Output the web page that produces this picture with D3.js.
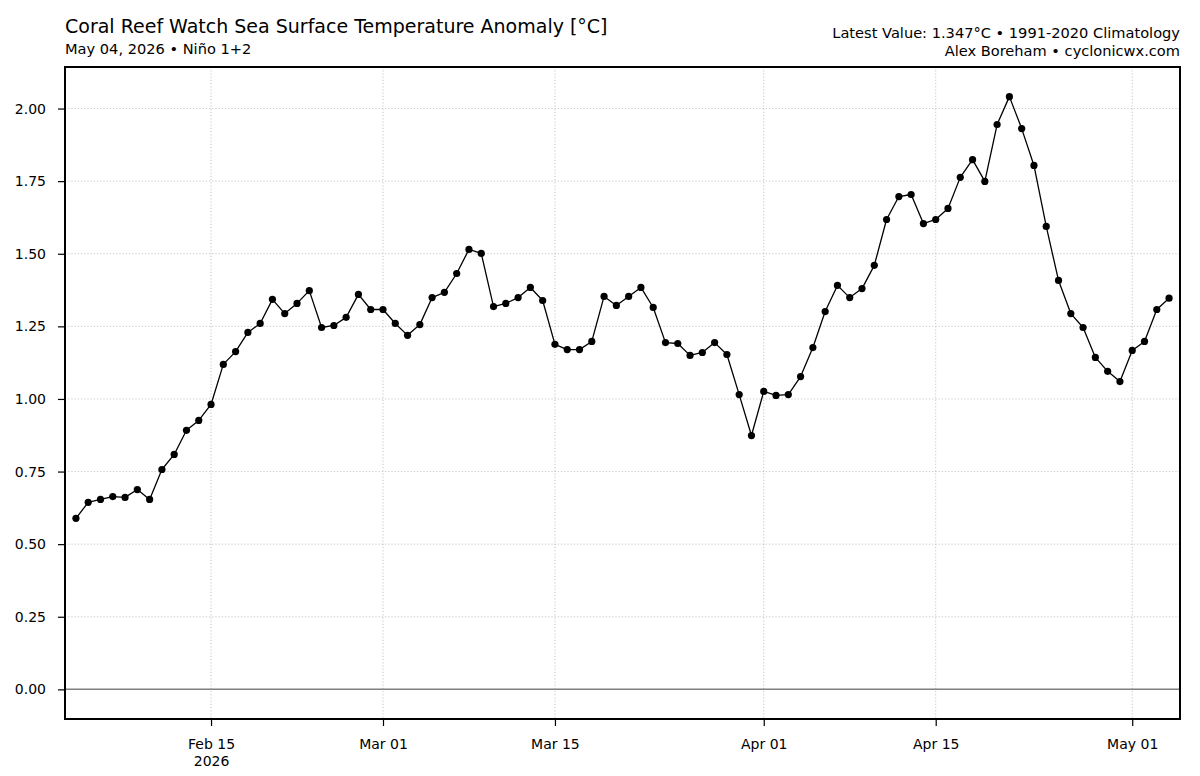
<!DOCTYPE html>
<html>
<head>
<meta charset="utf-8">
<script src="https://cdn.jsdelivr.net/npm/d3@7"></script>
<style>
  html, body { margin: 0; padding: 0; background: #fff; }
  svg { display: block; font-family: "DejaVu Sans", sans-serif; }
</style>
</head>
<body>
<svg id="chart" width="1200" height="776"></svg>
<script>
const dates = [
  "2026-02-04","2026-02-05","2026-02-06","2026-02-07","2026-02-08","2026-02-09","2026-02-10",
  "2026-02-11","2026-02-12","2026-02-13","2026-02-14","2026-02-15","2026-02-16","2026-02-17",
  "2026-02-18","2026-02-19","2026-02-20","2026-02-21","2026-02-22","2026-02-23","2026-02-24",
  "2026-02-25","2026-02-26","2026-02-27","2026-02-28","2026-03-01","2026-03-02","2026-03-03",
  "2026-03-04","2026-03-05","2026-03-06","2026-03-07","2026-03-08","2026-03-09","2026-03-10",
  "2026-03-11","2026-03-12","2026-03-13","2026-03-14","2026-03-15","2026-03-16","2026-03-17",
  "2026-03-18","2026-03-19","2026-03-20","2026-03-21","2026-03-22","2026-03-23","2026-03-24",
  "2026-03-25","2026-03-26","2026-03-27","2026-03-28","2026-03-29","2026-03-30","2026-03-31",
  "2026-04-01","2026-04-02","2026-04-03","2026-04-04","2026-04-05","2026-04-06","2026-04-07",
  "2026-04-08","2026-04-09","2026-04-10","2026-04-11","2026-04-12","2026-04-13","2026-04-14",
  "2026-04-15","2026-04-16","2026-04-17","2026-04-18","2026-04-19","2026-04-20","2026-04-21",
  "2026-04-22","2026-04-23","2026-04-24","2026-04-25","2026-04-26","2026-04-27","2026-04-28",
  "2026-04-29","2026-04-30","2026-05-01","2026-05-02","2026-05-03","2026-05-04"
];
const anomalies = [
  0.589,0.644,0.654,0.664,0.661,0.688,0.654,
  0.757,0.809,0.892,0.926,0.981,1.119,1.163,
  1.229,1.260,1.343,1.294,1.329,1.373,1.246,
  1.253,1.281,1.360,1.308,1.308,1.260,1.219,
  1.256,1.349,1.367,1.432,1.515,1.501,1.318,
  1.329,1.349,1.384,1.339,1.188,1.170,1.170,
  1.198,1.353,1.322,1.353,1.384,1.315,1.194,
  1.191,1.150,1.160,1.194,1.153,1.015,0.874,
  1.026,1.012,1.015,1.077,1.177,1.301,1.391,
  1.349,1.380,1.460,1.618,1.697,1.704,1.604,
  1.618,1.656,1.763,1.824,1.749,1.945,2.041,
  1.931,1.804,1.594,1.408,1.294,1.246,1.143,
  1.095,1.060,1.167,1.198,1.308,1.347
];
const yTicks = [0, 0.25, 0.5, 0.75, 1.0, 1.25, 1.5, 1.75, 2.0];
const xTickDates = ["2026-02-15","2026-03-01","2026-03-15","2026-04-01","2026-04-15","2026-05-01"];
const xTickLabels = ["Feb 15","Mar 01","Mar 15","Apr 01","Apr 15","May 01"];
const xTickSubLabels = ["2026","","","","",""];
const titleText = "Coral Reef Watch Sea Surface Temperature Anomaly [°C]";
const subtitleText = "May 04, 2026 • Niño 1+2";
const rightLine1 = "Latest Value: 1.347°C • 1991-2020 Climatology";
const rightLine2 = "Alex Boreham • cyclonicwx.com";

const parse = d3.utcParse("%Y-%m-%d");
const data = dates.map((d, i) => ({ date: parse(d), value: anomalies[i] }));

const svg = d3.select("#chart");
const W = 1200, H = 776;
const m = { left: 65, right: 20, top: 67, bottom: 57 };
const pw = W - m.left - m.right, ph = H - m.top - m.bottom;

const xExt = d3.extent(data, d => d.date);
const xPad = (xExt[1] - xExt[0]) * 0.01;
const x = d3.scaleUtc()
  .domain([new Date(+xExt[0] - xPad), new Date(+xExt[1] + xPad)])
  .range([m.left, m.left + pw]);

const yMin = Math.min(0, d3.min(anomalies)), yMax = d3.max(anomalies);
const yPad = (yMax - yMin) * 0.05;
const y = d3.scaleLinear().domain([yMin - yPad, yMax + yPad]).range([m.top + ph, m.top]);

const tickFont = "14px";
const headFont = "14.6px";

const g = svg.append("g");

svg.append("defs").append("clipPath").attr("id", "clip")
  .append("rect").attr("x", m.left).attr("y", m.top).attr("width", pw).attr("height", ph);

// gridlines
const grid = g.append("g").attr("clip-path", "url(#clip)");
grid.selectAll("line.gy").data(yTicks).join("line")
  .attr("x1", m.left).attr("x2", m.left + pw)
  .attr("y1", d => y(d)).attr("y2", d => y(d))
  .attr("stroke", "#b8b8b8").attr("stroke-width", 0.8).attr("stroke-dasharray", "1.2,2");
grid.selectAll("line.gx").data(xTickDates).join("line")
  .attr("x1", d => x(parse(d))).attr("x2", d => x(parse(d)))
  .attr("y1", m.top).attr("y2", m.top + ph)
  .attr("stroke", "#b8b8b8").attr("stroke-width", 0.8).attr("stroke-dasharray", "1.2,2");

// zero line
g.append("line")
  .attr("x1", m.left).attr("x2", m.left + pw)
  .attr("y1", y(0)).attr("y2", y(0))
  .attr("stroke", "#808080").attr("stroke-width", 1.5);

// series
const line = d3.line().x(d => x(d.date)).y(d => y(d.value));
g.append("path").datum(data)
  .attr("fill", "none").attr("stroke", "#000").attr("stroke-width", 1.3)
  .attr("stroke-linejoin", "round")
  .attr("d", line);
g.selectAll("circle.pt").data(data).join("circle")
  .attr("cx", d => x(d.date)).attr("cy", d => y(d.value)).attr("r", 3.6)
  .attr("fill", "#000");

// axes
const yAxis = d3.axisLeft(y).tickValues(yTicks).tickFormat(d3.format(".2f")).tickSize(7).tickPadding(12);
const ya = svg.append("g").attr("transform", `translate(${m.left},0)`).call(yAxis);
ya.select(".domain").remove();
ya.selectAll(".tick line").attr("stroke", "#000").attr("stroke-width", 1.2);
ya.selectAll(".tick text").attr("font-size", tickFont).attr("fill", "#000").attr("font-family", "DejaVu Sans");

const xAxis = d3.axisBottom(x).tickValues(xTickDates.map(parse))
  .tickFormat((d, i) => xTickLabels[i]).tickSize(7).tickPadding(13);
const xa = svg.append("g").attr("transform", `translate(0,${m.top + ph})`).call(xAxis);
xa.select(".domain").remove();
xa.selectAll(".tick line").attr("stroke", "#000").attr("stroke-width", 1.2);
xa.selectAll(".tick text").attr("font-size", tickFont).attr("fill", "#000").attr("font-family", "DejaVu Sans");
xa.selectAll(".tick").append("text")
  .attr("y", 37).attr("dy", "0.71em").attr("fill", "#000")
  .attr("font-size", tickFont).attr("font-family", "DejaVu Sans")
  .attr("text-anchor", "middle")
  .text((d, i) => xTickSubLabels[i]);

// frame
svg.append("rect").attr("x", m.left).attr("y", m.top).attr("width", pw).attr("height", ph)
  .attr("fill", "none").attr("stroke", "#000").attr("stroke-width", 2);

// titles
svg.append("text").attr("x", m.left).attr("y", 33).attr("font-size", "19px").attr("fill", "#000").text(titleText);
svg.append("text").attr("x", m.left).attr("y", 54).attr("font-size", headFont).attr("fill", "#000").text(subtitleText);
svg.append("text").attr("x", m.left + pw).attr("y", 38).attr("text-anchor", "end").attr("font-size", headFont).attr("fill", "#000").text(rightLine1);
svg.append("text").attr("x", m.left + pw).attr("y", 56).attr("text-anchor", "end").attr("font-size", headFont).attr("fill", "#000").text(rightLine2);
</script>
</body>
</html>
